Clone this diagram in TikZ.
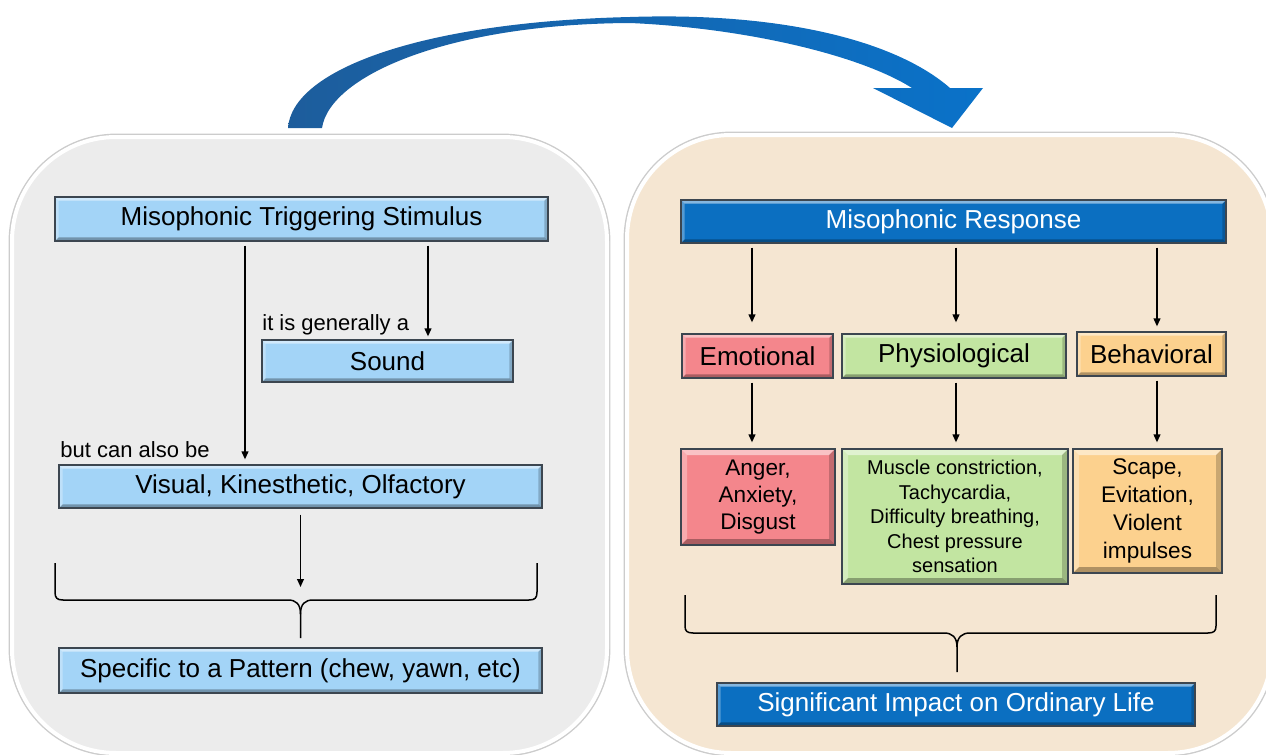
\documentclass[tikz,border=0pt]{standalone}
\usepackage{fontspec}
\setmainfont{Liberation Sans}
\usetikzlibrary{arrows.meta}

\definecolor{panelgray}{HTML}{ECECEC}
\definecolor{panelsand}{HTML}{F5E6D2}
\definecolor{skyfill}{HTML}{A3D4F7}
\definecolor{deepblue}{HTML}{0B6FC1}
\definecolor{rosefill}{HTML}{F4868C}
\definecolor{leaffill}{HTML}{C2E5A1}
\definecolor{apricot}{HTML}{FCD18E}
\definecolor{boxrim}{HTML}{3C4650}
\definecolor{arcdark}{HTML}{1D5D9C}
\definecolor{arcblue}{HTML}{0A72C9}

\tikzset{
  bevel/.style={path picture={
    \fill[white,opacity=.5] (path picture bounding box.north west) -- (path picture bounding box.north east)
      -- ([shift={(-#1,-#1)}]path picture bounding box.north east) -- ([shift={(#1,-#1)}]path picture bounding box.north west) -- cycle;
    \fill[white,opacity=.3] (path picture bounding box.north west) -- ([shift={(#1,-#1)}]path picture bounding box.north west)
      -- ([shift={(#1,#1)}]path picture bounding box.south west) -- (path picture bounding box.south west) -- cycle;
    \fill[black,opacity=.3] (path picture bounding box.south west) -- (path picture bounding box.south east)
      -- ([shift={(-#1,#1)}]path picture bounding box.south east) -- ([shift={(#1,#1)}]path picture bounding box.south west) -- cycle;
    \fill[black,opacity=.2] (path picture bounding box.north east) -- ([shift={(-#1,-#1)}]path picture bounding box.north east)
      -- ([shift={(-#1,#1)}]path picture bounding box.south east) -- (path picture bounding box.south east) -- cycle;
  }},
  tbox/.style={draw=boxrim, line width=0.6pt, inner sep=0pt, align=center,
    font=\fontsize{13}{15.6}\selectfont, bevel=1.8pt},
  skybox/.style={tbox, fill=skyfill},
  darkbox/.style={tbox, fill=deepblue, text=white},
  detail/.style={tbox, bevel=3pt},
  note/.style={inner sep=0pt, font=\fontsize{11}{13}\selectfont},
  conn/.style={-{Triangle[length=4pt,width=3.4pt]}, line width=0.75pt, shorten <=2pt, shorten >=1.5pt},
  brace/.style={line width=0.75pt, line join=round},
  panel/.style={draw=white, line width=2pt, rounded corners=52pt},
  panelshade/.style={draw=black!20, line width=3.4pt, rounded corners=52pt}
}

\begin{document}
\begin{tikzpicture}[x=0.5pt,y=-0.5pt]
  \useasboundingbox (0,0) rectangle (1266,755);
  % panels
  \draw[panelshade] (12,137) rectangle (607,753);
  \draw[panel, fill=panelgray] (12,137) rectangle (607,753);
  \draw[panelshade] (627,135) rectangle (1272,753);
  \draw[panel, fill=panelsand] (627,135) rectangle (1272,753);

  % curved arrow between panels
  \path[left color=arcdark, right color=arcblue]
    (288,128) .. controls (292,70) and (420,22) .. (630,17)
    .. controls (780,12) and (895,40) .. (950,88)
    -- (983,88) -- (952,128) -- (873,88) -- (912,88)
    .. controls (860,55) and (745,28) .. (630,23)
    .. controls (450,24) and (330,75) .. (322,128) -- cycle;

  % left panel
  \node[skybox, minimum width=246.5pt, minimum height=22pt] (stim) at (301.5,219) {Misophonic Triggering Stimulus};
  \node[skybox, minimum width=125.5pt, minimum height=21pt] (sound) at (387.5,361) {Sound};
  \node[skybox, minimum width=241.5pt, minimum height=21.5pt] (visual) at (300.5,486.5) {Visual, Kinesthetic, Olfactory};
  \node[skybox, minimum width=241.5pt, minimum height=22.5pt] (pattern) at (300.5,670.5) {Specific to a Pattern (chew, yawn, etc)};
  \node[note, anchor=base west] (generally) at (262,330) {it is generally a};
  \node[note, anchor=base west] (also) at (60,457) {but can also be};

  \coordinate (soundx) at (428,0);
  \coordinate (visx) at (245,0);
  \coordinate (ltip) at (300.5,590);
  \draw[conn] (stim.south -| soundx) -- (sound.north -| soundx);
  \draw[conn, shorten >=2.5pt] (stim.south -| visx) -- (visual.north -| visx);
  \draw[conn, shorten <=3pt] (visual.south) -- (ltip);

  \draw[brace] (55,563) -- (55,592) .. controls (55,598) and (57,600) .. (63,600) -- (288,600)
    .. controls (296,600) and (300.5,604) .. (300.5,614) -- (300.5,638);
  \draw[brace] (537,563) -- (537,592) .. controls (537,598) and (535,600) .. (529,600) -- (313,600)
    .. controls (305,600) and (300.5,604) .. (300.5,614);

  % right panel
  \node[darkbox, minimum width=272.5pt, minimum height=21.5pt] (resp) at (953.5,221.5) {Misophonic Response};
  \node[tbox, fill=rosefill, minimum width=75.5pt, minimum height=22pt] (emo) at (757.5,356) {Emotional};
  \node[tbox, fill=leaffill, minimum width=112pt, minimum height=22pt] (phys) at (954,356) {Physiological};
  \node[tbox, fill=apricot, minimum width=74.5pt, minimum height=22pt] (behav) at (1151.5,354) {Behavioral};

  \node[detail, fill=rosefill, minimum width=77pt, minimum height=48pt, font=\fontsize{11.3}{13.7}\selectfont]
    (anger) at (758,497) {Anger,\\Anxiety,\\Disgust};
  \node[detail, fill=leaffill, minimum width=113pt, minimum height=67.5pt, font=\fontsize{10}{12.2}\selectfont]
    (muscle) at (955,516.5) {Muscle constriction,\\Tachycardia,\\Difficulty breathing,\\Chest pressure\\sensation};
  \node[detail, fill=apricot, minimum width=74.5pt, minimum height=62pt, font=\fontsize{11.3}{14}\selectfont]
    (scape) at (1147.5,511) {Scape,\\Evitation,\\Violent\\impulses};
  \node[darkbox, minimum width=239pt, minimum height=21.5pt] (impact) at (956,704.5) {Significant Impact on Ordinary Life};

  \coordinate (emox) at (752,0);
  \coordinate (physx) at (956,0);
  \coordinate (behavx) at (1157,0);
  \coordinate (rtip) at (957,672);
  \draw[conn, shorten >=5.5pt] (resp.south -| emox) -- (emo.north -| emox);
  \draw[conn, shorten >=5.5pt] (resp.south -| physx) -- (phys.north -| physx);
  \draw[conn, shorten >=2.5pt] (resp.south -| behavx) -- (behav.north -| behavx);
  \draw[conn, shorten >=3pt] (emo.south -| emox) -- (anger.north -| emox);
  \draw[conn, shorten >=3pt] (phys.south -| physx) -- (muscle.north -| physx);
  \draw[conn, shorten >=3pt] (behav.south -| behavx) -- (scape.north -| behavx);

  \draw[brace] (685,595) -- (685,626) .. controls (685,631) and (687,633) .. (693,633) -- (944,633)
    .. controls (952,633) and (957,637) .. (957,647) -- (rtip);
  \draw[brace] (1216,595) -- (1216,626) .. controls (1216,631) and (1214,633) .. (1208,633) -- (970,633)
    .. controls (962,633) and (957,637) .. (957,647);
\end{tikzpicture}
\end{document}
